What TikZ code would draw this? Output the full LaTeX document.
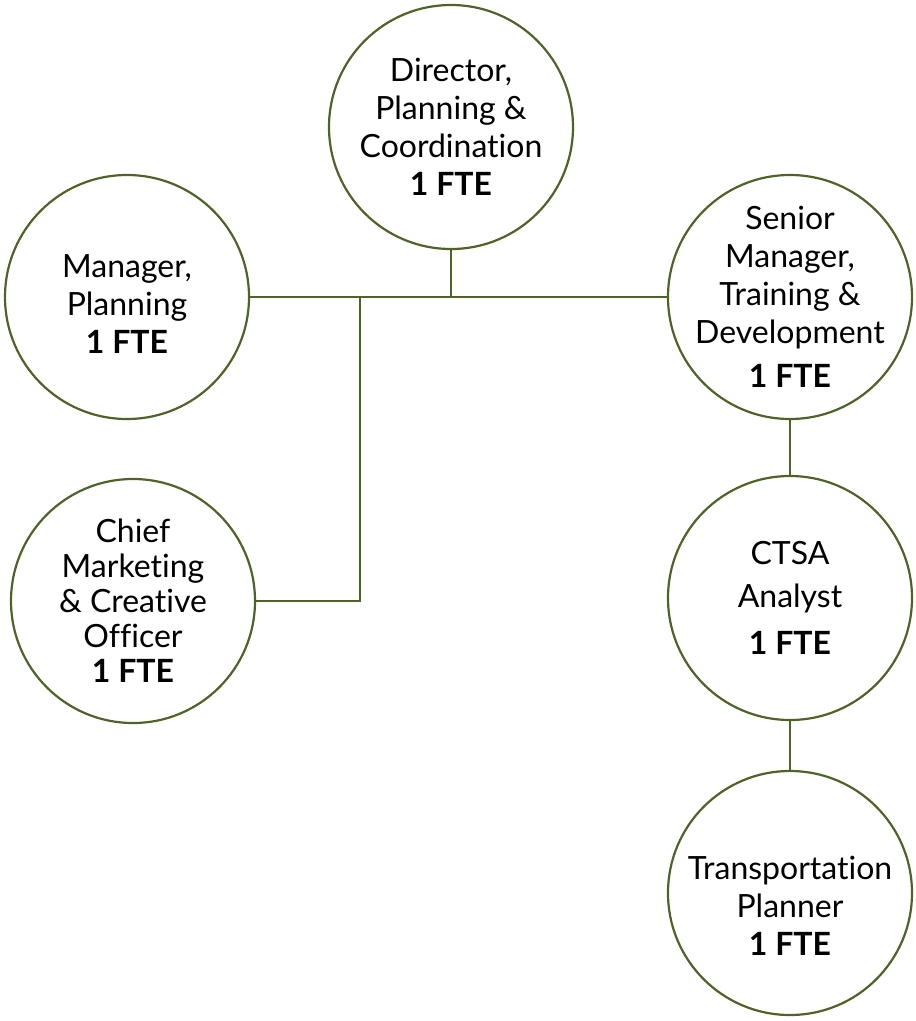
\documentclass[tikz,border=0pt]{standalone}
\usepackage{fontspec}
\setmainfont{Lato}[Ligatures={NoCommon,NoRequired}]
\definecolor{olivo}{RGB}{79,98,40}

\begin{document}
\begin{tikzpicture}[x=1pt, y=-1pt,
        every node/.style={circle, draw=olivo, line width=2.2pt, minimum size=244pt, inner sep=0pt, align=center, font=\fontsize{32}{38}\selectfont},
        link/.style={draw=olivo, line width=2.2pt}]

        \useasboundingbox (0,0) rectangle (916,1021);

        % Posizioni dei nodi
        \node (dir) at (451,127) {Director,\\Planning \&\\Coordination\\\textbf{1 FTE}};
        \node (man) at (127,297) {\rule{0pt}{36pt}Manager,\\Planning\\\textbf{1 FTE}};
        \node[inner sep=-16pt] (sen) at (790,297) {Senior\\Manager,\\Training \&\\Development\\[6pt]\textbf{1 FTE}};
        \node[font=\fontsize{32}{35}\selectfont] (cmo) at (133,601) {Chief\\Marketing\\\& Creative\\Officer\\\textbf{1 FTE}};
        \node[font=\fontsize{32}{43}\selectfont] (cts) at (790,598) {CTSA\\Analyst\\[4pt]\textbf{1 FTE}};
        \node (tra) at (790,893) {\rule{0pt}{48pt}Transportation\\Planner\\\textbf{1 FTE}};
        \coordinate (jd) at (451,297);
        \coordinate (jc) at (360,297);
        % Archi
        \draw[link] (dir) -- (jd);
        \draw[link] (man) -- (sen);
        \draw[link] (jc) |- (cmo);
        \draw[link] (sen) -- (cts);
        \draw[link] (cts) -- (tra);
    \end{tikzpicture}
\end{document}
